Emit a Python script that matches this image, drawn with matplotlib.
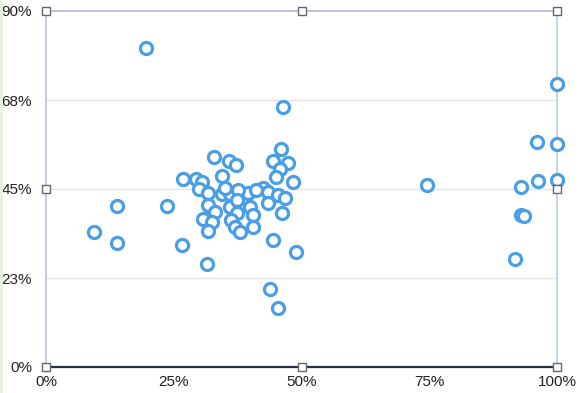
import matplotlib
matplotlib.use("Agg")
import matplotlib.pyplot as plt
from matplotlib.patches import Rectangle

plt.rcParams['font.family'] = ['Liberation Sans', 'DejaVu Sans']

# data (percent)
x_vals = [19.6, 46.4, 100, 100, 96.1, 100, 96.3, 93.0, 74.6, 93.0, 93.5, 91.8,
          9.4, 13.9, 13.9, 23.7, 26.6, 31.5, 43.8, 45.4, 48.9, 44.4,
          32.9, 35.8, 37.2, 46.0, 44.4, 47.4, 45.8, 45.0, 48.3,
          26.8, 29.4, 30.5, 34.4, 29.9, 31.7, 34.4, 36.0, 38.0, 39.5, 42.5, 43.4,
          45.4, 46.8, 31.7, 33.1, 36.0, 37.4, 39.9, 40.5, 43.4, 46.2, 30.7, 32.5,
          36.2, 37.0, 38.0, 40.5, 31.7, 35.0, 37.6, 41.1, 37.4]
y_vals = [80.6, 65.7, 71.5, 56.4, 56.9, 47.3, 47.0, 45.5, 46.0, 38.4, 38.2, 27.3,
          34.1, 40.7, 31.3, 40.7, 30.8, 26.0, 19.7, 14.9, 29.1, 32.1,
          53.1, 52.1, 51.1, 55.1, 52.1, 51.6, 50.1, 48.0, 46.8,
          47.5, 47.5, 46.8, 48.3, 45.0, 44.0, 43.7, 43.7, 44.0, 44.0, 45.2, 44.2,
          43.5, 42.7, 41.0, 39.2, 40.4, 38.9, 40.4, 38.4, 41.5, 38.9, 37.4, 36.7,
          37.2, 35.4, 34.1, 35.4, 34.4, 45.2, 44.7, 44.7, 42.2]
x_ticks = [0, 25, 50, 75, 100]
x_tick_labels = ["0%", "25%", "50%", "75%", "100%"]
y_ticks = [0, 22.5, 45, 67.5, 90]
y_tick_labels = ["0%", "23%", "45%", "68%", "90%"]

fig = plt.figure(figsize=(5.8, 3.93), dpi=100)
fig.patches.append(Rectangle((0, 0), 3/580, 1, transform=fig.transFigure,
                             facecolor="#e6f4df", edgecolor="none", zorder=0))
ax = fig.add_axes([46/580, 26/393, 511/580, 356/393])
ax.set_xlim(0, 100)
ax.set_ylim(0, 90)

for yv in y_ticks[1:-1]:
    ax.axhline(yv, color="#e4e4e4", lw=1.0, zorder=1)

ax.plot(x_vals, y_vals, linestyle="none", marker="o", markersize=8.7,
        markerfacecolor="white", markeredgecolor="#4a9ee6", markeredgewidth=2.3,
        zorder=3, clip_on=False)

ax.set_xticks(x_ticks)
ax.set_xticklabels(x_tick_labels)
ax.set_yticks(y_ticks)
ax.set_yticklabels(y_tick_labels)
ax.tick_params(axis="both", length=0, labelsize=11, labelcolor="#222222")
ax.tick_params(axis="x", pad=6)
ax.tick_params(axis="y", pad=10)

ax.spines["left"].set_color("#b9c6dc")
ax.spines["left"].set_linewidth(1.2)
ax.spines["right"].set_color("#b9cfe4")
ax.spines["right"].set_linewidth(1.2)
ax.spines["top"].set_color("#b3b8e6")
ax.spines["top"].set_linewidth(1.2)
ax.spines["bottom"].set_color("#2a3142")
ax.spines["bottom"].set_linewidth(1.6)

hx = [0, 50, 100, 0, 100, 0, 50, 100]
hy = [0, 0, 0, 45, 45, 90, 90, 90]
ax.plot(hx, hy, linestyle="none", marker="s", markersize=5.5,
        markerfacecolor="white", markeredgecolor="#666666", markeredgewidth=1.0,
        zorder=5, clip_on=False)

fig.savefig("out.png", dpi=100)
